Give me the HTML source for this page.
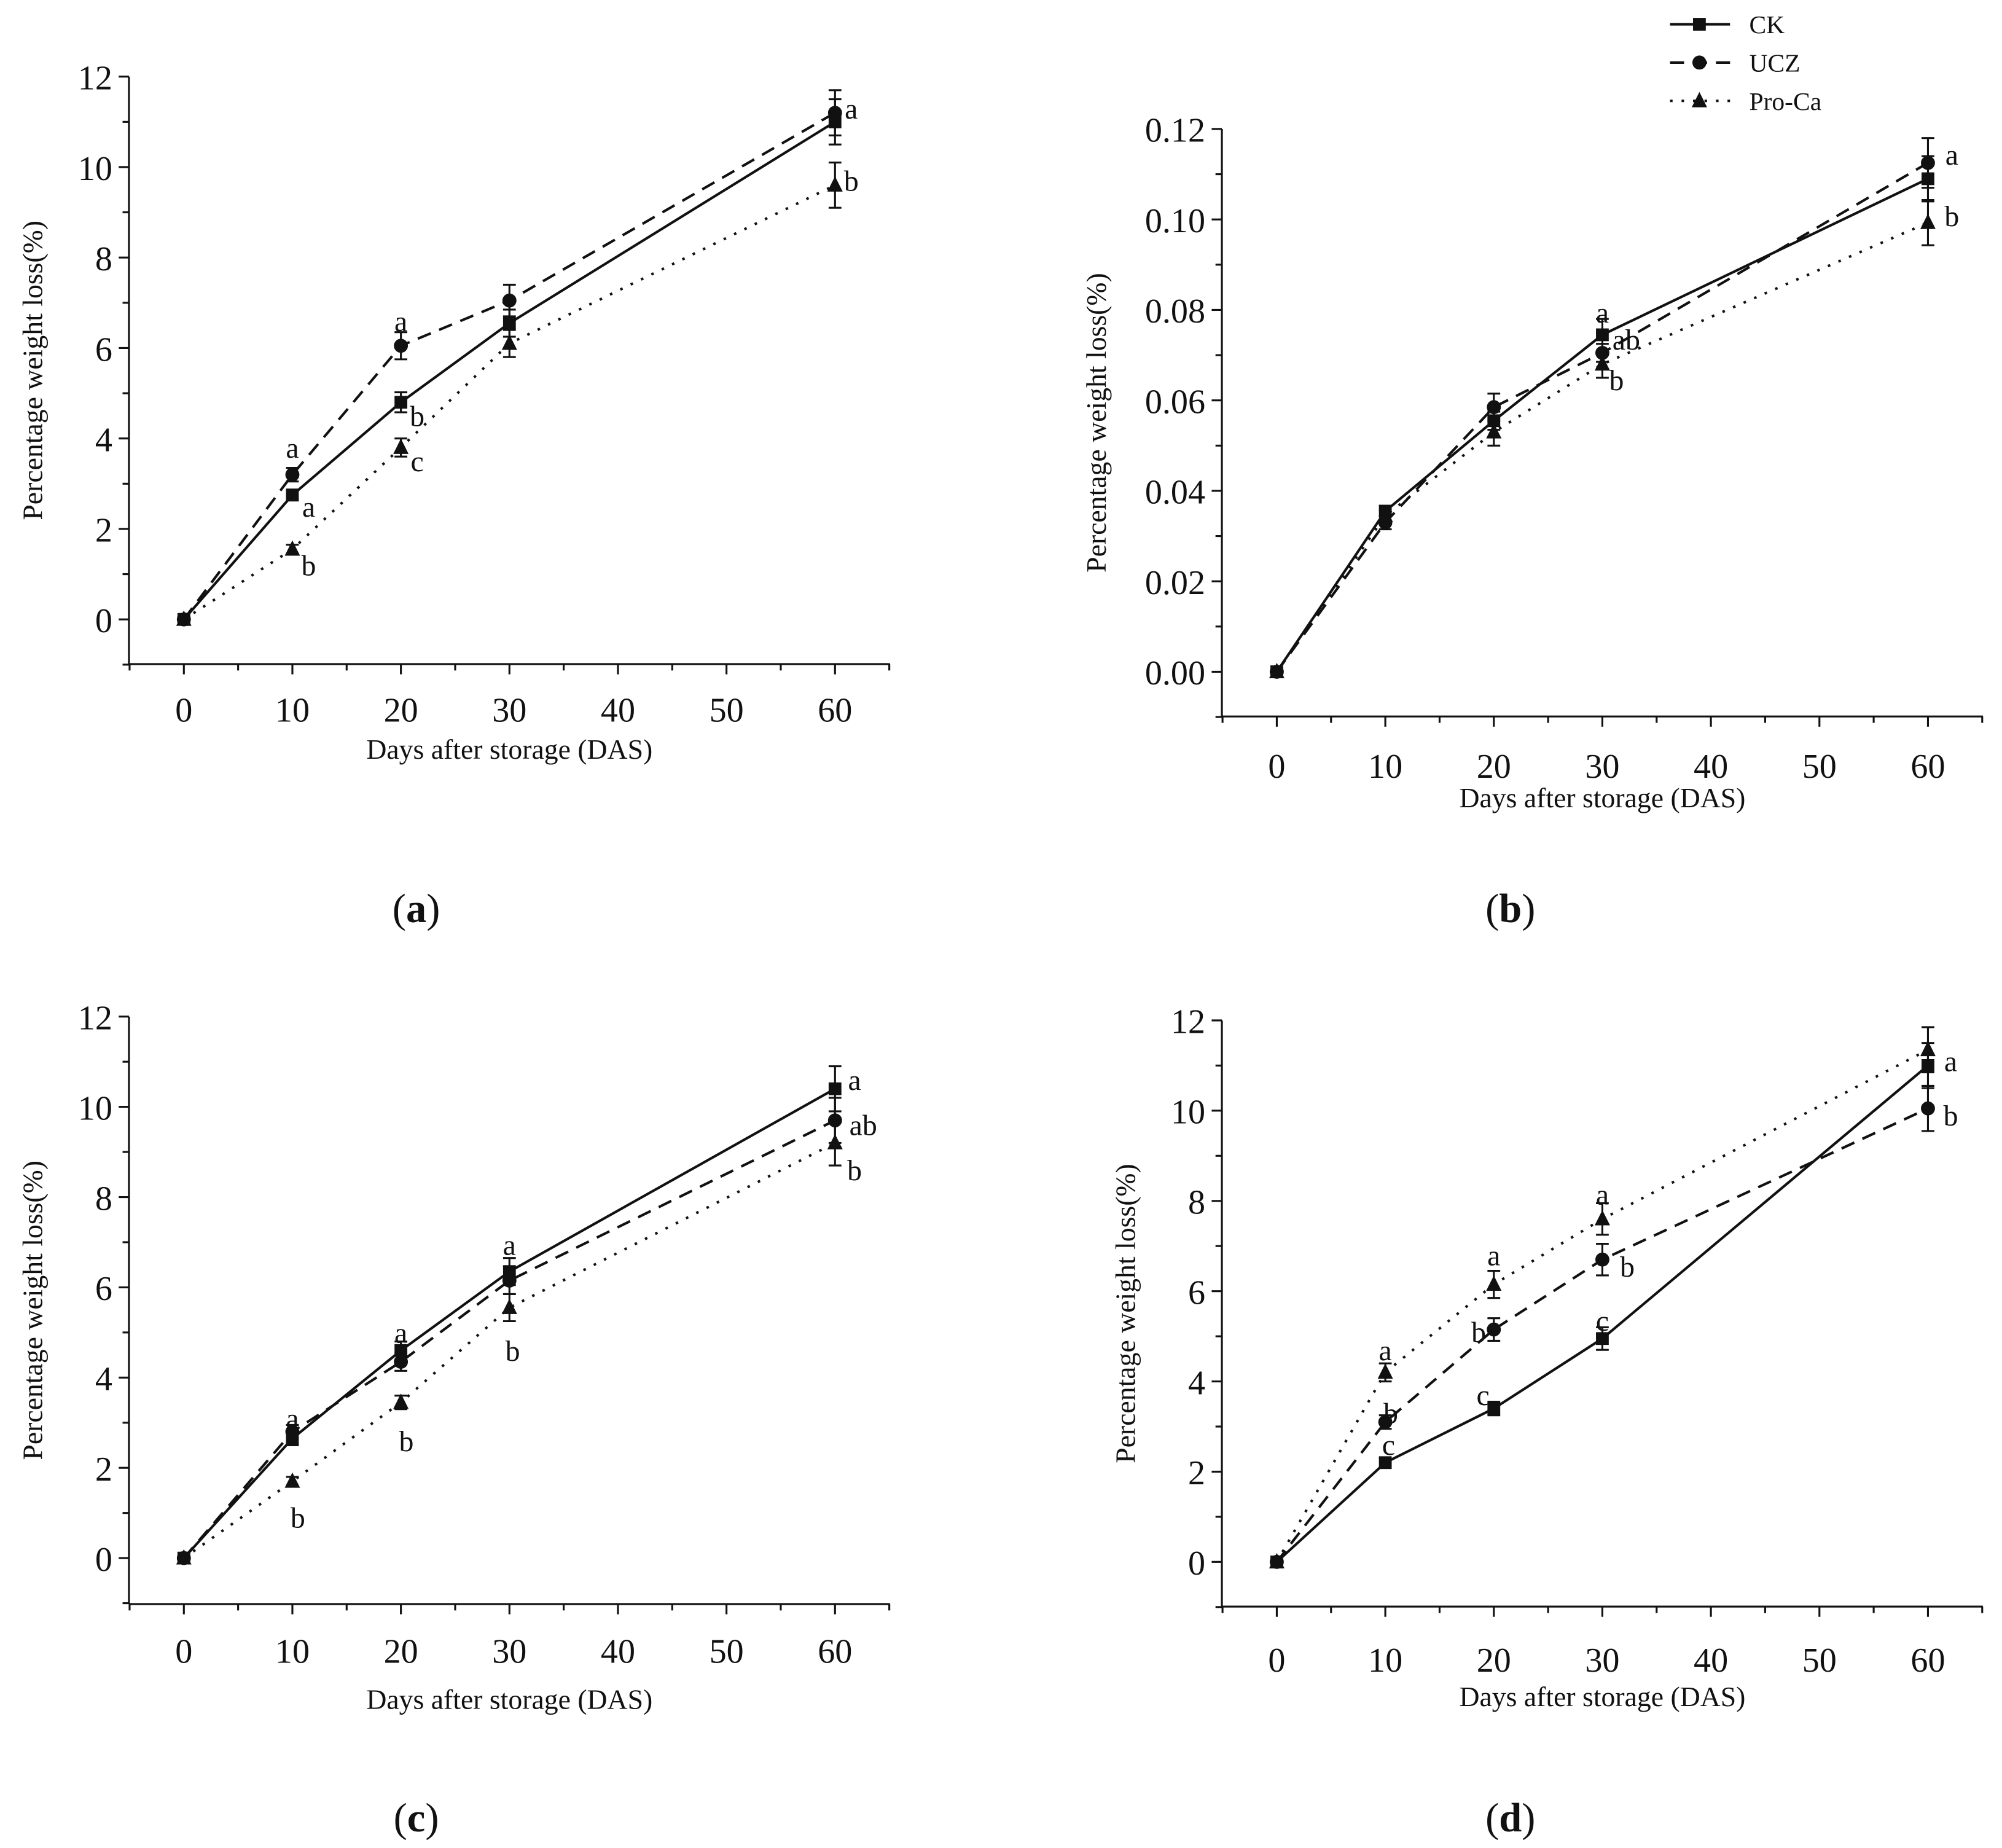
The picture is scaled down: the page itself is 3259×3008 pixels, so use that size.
<!DOCTYPE html>
<html><head><meta charset="utf-8"><style>
html,body{margin:0;padding:0;background:#fff;}
svg{display:block;}
text{font-family:"Liberation Serif",serif;fill:#111;}
</style></head><body>
<svg id="fig" width="3259" height="3008" viewBox="0 0 1568 1447" preserveAspectRatio="none" xmlns="http://www.w3.org/2000/svg">
<g id="legend">
 <g><line x1="1308" y1="19" x2="1355" y2="19" stroke="#111" stroke-width="2"/><rect x="1326" y="14" width="10" height="10" fill="#111"/><text x="1370" y="26" font-size="20">CK</text></g>
 <g><line x1="1308" y1="49" x2="1355" y2="49" stroke="#111" stroke-width="2" stroke-dasharray="11,7"/><circle cx="1331" cy="49" r="5.5" fill="#111"/><text x="1370" y="56" font-size="20">UCZ</text></g>
 <g><line x1="1308" y1="79" x2="1355" y2="79" stroke="#111" stroke-width="2" stroke-dasharray="2,7"/><polygon points="1331,72 1337,84 1325,84" fill="#111"/><text x="1370" y="86" font-size="20">Pro-Ca</text></g>
</g>
</svg>
<script>
const days = [0, 10, 20, 30, 60];
const xTicks = [0, 10, 20, 30, 40, 50, 60];
const seriesNames = ["CK", "UCZ", "Pro-Ca"];
// panel a
const aCK = [0, 2.75, 4.8, 6.55, 11.0];
const aUCZ = [0, 3.2, 6.05, 7.05, 11.2];
const aPro = [0, 1.55, 3.8, 6.1, 9.6];
const aErrCK = [0.05, 0.12, 0.22, 0.3, 0.5];
const aErrUCZ = [0.05, 0.15, 0.3, 0.35, 0.5];
const aErrPro = [0.05, 0.1, 0.2, 0.3, 0.5];
// panel b
const bCK = [0, 0.0355, 0.0555, 0.0745, 0.109];
const bUCZ = [0, 0.033, 0.0585, 0.0705, 0.1125];
const bPro = [0, 0.0345, 0.053, 0.068, 0.0993];
const bErrCK = [0.0005, 0.0012, 0.002, 0.0035, 0.005];
const bErrUCZ = [0.0005, 0.0015, 0.003, 0.002, 0.0055];
const bErrPro = [0.0005, 0.0012, 0.003, 0.003, 0.005];
// panel c
const cCK = [0, 2.65, 4.6, 6.35, 10.4];
const cUCZ = [0, 2.8, 4.35, 6.15, 9.7];
const cPro = [0, 1.7, 3.45, 5.55, 9.2];
const cErrCK = [0.05, 0.15, 0.2, 0.3, 0.5];
const cErrUCZ = [0.05, 0.15, 0.2, 0.3, 0.5];
const cErrPro = [0.05, 0.1, 0.15, 0.3, 0.5];
// panel d
const dCK = [0, 2.2, 3.4, 4.95, 11.0];
const dUCZ = [0, 3.1, 5.15, 6.7, 10.05];
const dPro = [0, 4.2, 6.15, 7.6, 11.35];
const dErrCK = [0.05, 0.1, 0.15, 0.25, 0.5];
const dErrUCZ = [0.05, 0.15, 0.25, 0.35, 0.5];
const dErrPro = [0.05, 0.2, 0.3, 0.35, 0.5];
// y ticks
const yTicksPct = ["0", "2", "4", "6", "8", "10", "12"];
const yTicksB = ["0.00", "0.02", "0.04", "0.06", "0.08", "0.10", "0.12"];
// significance letters: [day, value, letter]
const aLetters = [[10,3.8,"a"],[11.5,2.5,"a"],[11.5,1.2,"b"],[20,6.6,"a"],[21.5,4.5,"b"],[21.5,3.5,"c"],[61.5,11.3,"a"],[61.5,9.7,"b"]];
const bLetters = [[30,0.0795,"a"],[32.2,0.0735,"ab"],[31.3,0.0645,"b"],[62.2,0.1144,"a"],[62.2,0.1008,"b"]];
const cLetters = [[10,3.1,"a"],[10.5,0.9,"b"],[20,5.0,"a"],[20.5,2.6,"b"],[30,6.95,"a"],[30.3,4.6,"b"],[61.8,10.6,"a"],[62.6,9.6,"ab"],[61.8,8.6,"b"]];
const dLetters = [[10,4.7,"a"],[10.5,3.3,"b"],[10.3,2.6,"c"],[20,6.8,"a"],[18.6,5.1,"b"],[19,3.7,"c"],[30,8.15,"a"],[32.3,6.55,"b"],[30,5.35,"c"],[62.1,11.1,"a"],[62.1,9.9,"b"]];

const NS = "http://www.w3.org/2000/svg";
const svg = document.getElementById("fig");
function mk(tag, attrs, parent){
  const e = document.createElementNS(NS, tag);
  for (const k in attrs) e.setAttribute(k, attrs[k]);
  (parent||svg).appendChild(e);
  return e;
}
const dashes = ["", "11,7", "2,7"];
const panels = [
 {id:"a", ax:101, x0:144, x60:654, xr:697, yTop:60, yZero:485, yBot:520, ymax:12, ymin:-1, minor:1, ticks:yTicksPct, series:[aCK,aUCZ,aPro], errs:[aErrCK,aErrUCZ,aErrPro], letters:aLetters, tickY:555, xlabY:594, ytx:33, panelLab:[326,722]},
 {id:"b", ax:957, x0:1000, x60:1510, xr:1553, yTop:101, yZero:526, yBot:561, ymax:0.12, ymin:-0.01, minor:0.01, ticks:yTicksB, series:[bCK,bUCZ,bPro], errs:[bErrCK,bErrUCZ,bErrPro], letters:bLetters, tickY:599, xlabY:632, ytx:866, panelLab:[1183,722]},
 {id:"c", ax:101, x0:144, x60:654, xr:697, yTop:796, yZero:1220, yBot:1256, ymax:12, ymin:-1, minor:1, ticks:yTicksPct, series:[cCK,cUCZ,cPro], errs:[cErrCK,cErrUCZ,cErrPro], letters:cLetters, tickY:1292, xlabY:1338, ytx:33, panelLab:[326,1434]},
 {id:"d", ax:957, x0:1000, x60:1510, xr:1553, yTop:799, yZero:1223, yBot:1258, ymax:12, ymin:-1, minor:1, ticks:yTicksPct, series:[dCK,dUCZ,dPro], errs:[dErrCK,dErrUCZ,dErrPro], letters:dLetters, tickY:1299, xlabY:1336, ytx:889, panelLab:[1183,1434]}
];
panels.forEach(p => {
  const g = mk("g", {});
  
  
  const X = d => p.x0 + (p.x60 - p.x0) * d / 60;
  const Y = v => p.yZero - (p.yZero - p.yTop) * v / p.ymax;
  const ya = mk("line", {x1:p.ax, y1:p.yTop, x2:p.ax, y2:p.yBot, stroke:"#111", "stroke-width":1.5}, g);
  
  
  const xa = mk("line", {x1:p.ax, y1:p.yBot, x2:p.xr, y2:p.yBot, stroke:"#111", "stroke-width":1.5}, g);
  
  
  const step = p.ymax / 6;
  for (let v = p.ymin; v <= p.ymax + 1e-9; v += p.minor) {
    const major = Math.abs(Math.round(v/step)*step - v) < 1e-9 && v >= -1e-9;
    mk("line", {x1:p.ax - (major?8:5), y1:Y(v), x2:p.ax, y2:Y(v), stroke:"#111", "stroke-width":1.5}, g);
  }
  p.ticks.forEach((t, i) => {
    const tx = mk("text", {x:p.ax - 13, y:Y(i*step) + 10, "font-size":27, "text-anchor":"end"}, g);
    tx.textContent = t;
    
    
  });
  for (let d = -5; d <= 65; d += 5) {
    const major = d % 10 === 0 && d >= 0 && d <= 60;
    mk("line", {x1:X(d), y1:p.yBot, x2:X(d), y2:p.yBot + (major?8:5), stroke:"#111", "stroke-width":1.5}, g);
  }
  xTicks.forEach(t => {
    const tx = mk("text", {x:X(t), y:p.tickY + 10, "font-size":27, "text-anchor":"middle"}, g);
    tx.textContent = t;
    
    
  });
  const xl = mk("text", {x:(p.ax + p.xr)/2, y:p.xlabY, "font-size":22, "text-anchor":"middle"}, g);
  xl.textContent = "Days after storage (DAS)";
  
  
  const ymid = (p.yTop + p.yBot)/2;
  const yl = mk("text", {x:p.ytx, y:ymid, "font-size":22, "text-anchor":"middle", transform:`rotate(-90 ${p.ytx} ${ymid})`}, g);
  yl.textContent = "Percentage weight loss(%)";
  
  
  p.series.forEach((vals, si) => {
    const sg = mk("g", {}, g);
    
    
    const pts = vals.map((v, i) => X(days[i]) + "," + Y(v)).join(" ");
    const line = mk("polyline", {points:pts, fill:"none", stroke:"#111", "stroke-width":2, "stroke-dasharray":dashes[si]}, sg);
    
    
    vals.forEach((v, i) => {
      const cx = X(days[i]), cy = Y(v), e = p.errs[si][i];
      const y1 = Y(v + e), y2 = Y(v - e);
      mk("line", {x1:cx, y1:y1, x2:cx, y2:y2, stroke:"#111", "stroke-width":1.5}, sg);
      mk("line", {x1:cx-5, y1:y1, x2:cx+5, y2:y1, stroke:"#111", "stroke-width":1.5}, sg);
      mk("line", {x1:cx-5, y1:y2, x2:cx+5, y2:y2, stroke:"#111", "stroke-width":1.5}, sg);
      let m;
      if (si === 0) m = mk("rect", {x:cx-5, y:cy-5, width:10, height:10, fill:"#111"}, sg);
      else if (si === 1) m = mk("circle", {cx:cx, cy:cy, r:5.5, fill:"#111"}, sg);
      else m = mk("polygon", {points:`${cx},${cy-7} ${cx+6},${cy+5} ${cx-6},${cy+5}`, fill:"#111"}, sg);
      
      
    });
  });
  p.letters.forEach(l => {
    const t = mk("text", {x:X(l[0]), y:Y(l[1]) + 8, "font-size":23, "text-anchor":"middle"}, g);
    t.textContent = l[2];
    
    
  });
  const pl = mk("text", {x:p.panelLab[0], y:p.panelLab[1], "font-size":32, "text-anchor":"middle"}, g);
  pl.innerHTML = '(<tspan font-weight="bold">' + p.id + '</tspan>)';
  
  
});
</script>
</body></html>
